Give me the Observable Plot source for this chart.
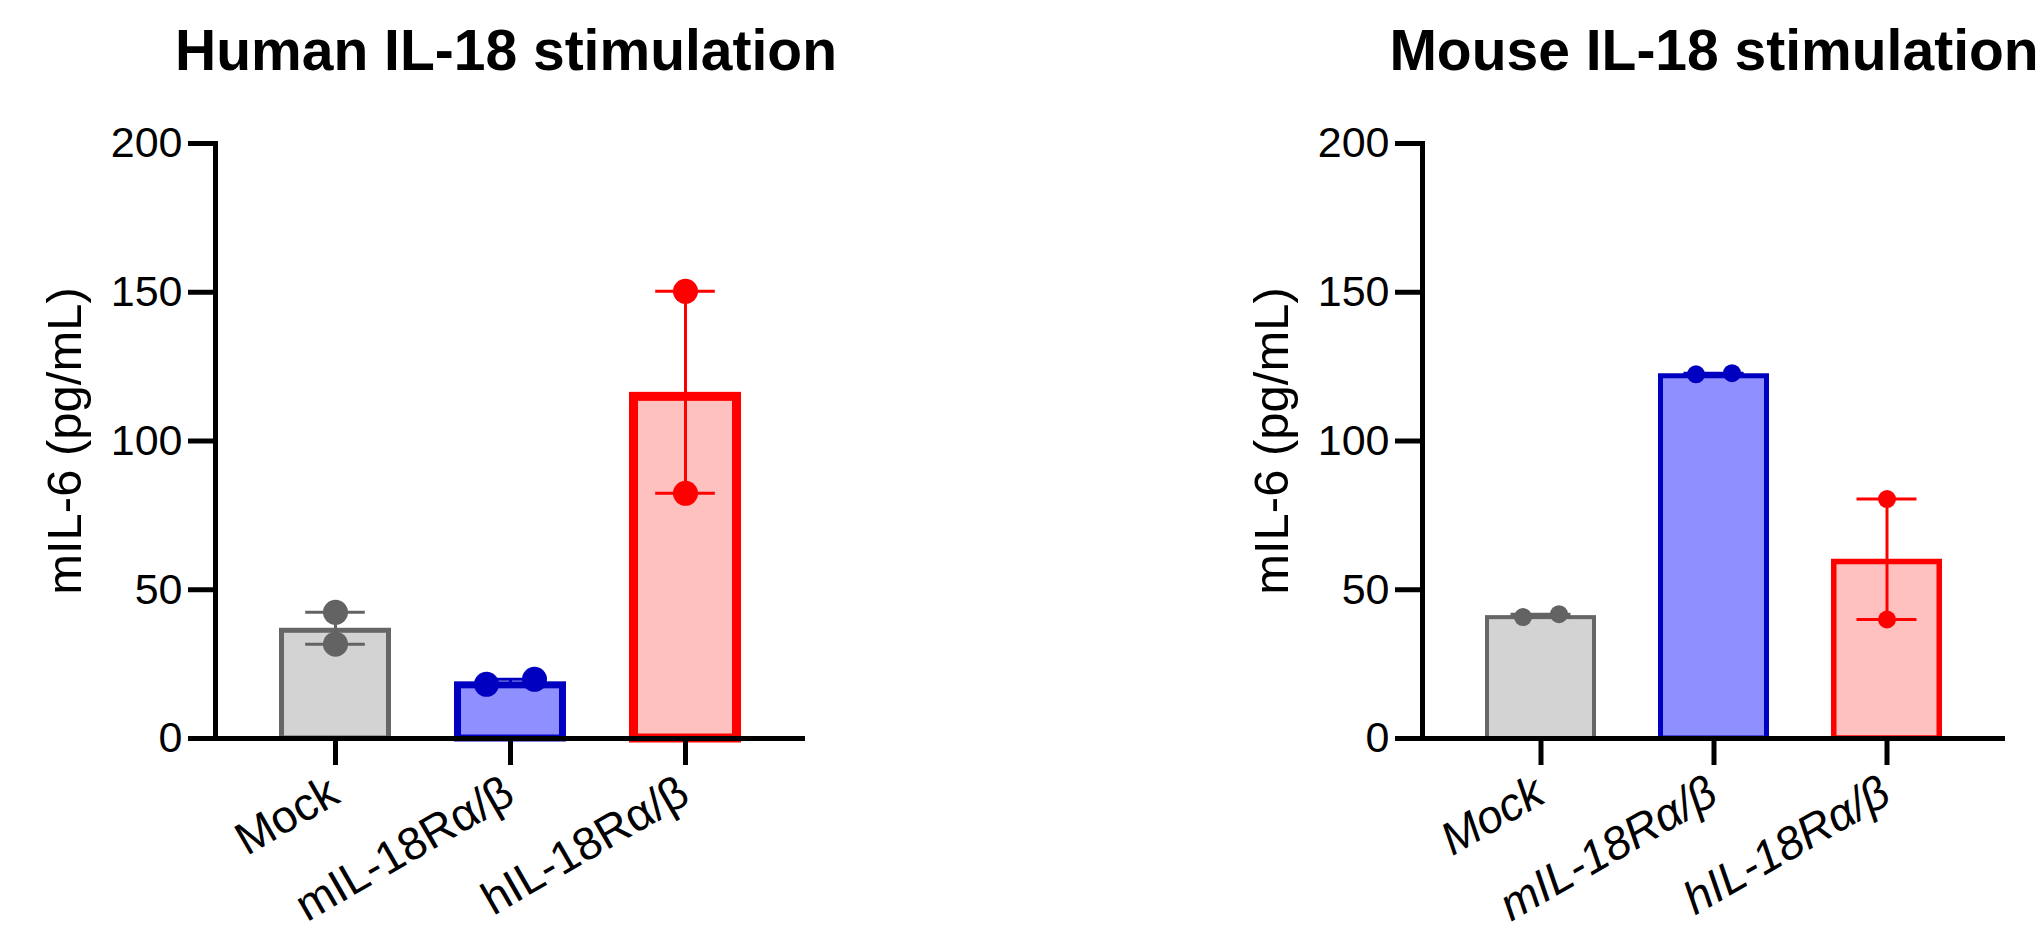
<!DOCTYPE html>
<html><head><meta charset="utf-8">
<script src="https://cdn.jsdelivr.net/npm/d3@7"></script>
<script src="https://cdn.jsdelivr.net/npm/@observablehq/plot@0.6"></script>
<style>
html,body{margin:0;padding:0;background:#fff;width:2040px;height:930px;overflow:hidden;font-family:"Liberation Sans",Arial,sans-serif;}
#wrap{position:relative;width:2040px;height:930px;overflow:hidden;}
.panel{position:absolute;top:0;width:1020px;height:930px;}
.title{position:absolute;top:0;height:100px;line-height:100px;font-size:57px;font-weight:bold;white-space:nowrap;transform:translateX(-50%);color:#000;}
.chart{position:absolute;top:100px;left:0;}
</style></head><body><div id="wrap"></div>
<script>
// ---- data ----
const groups = ["Mock", "mIL-18Rα/β", "hIL-18Rα/β"];
const humanRep1 = [42.4, 18.2, 150.3];
const humanRep2 = [31.7, 19.9, 82.4];
const mouseRep1 = [40.8, 122.4, 80.5];
const mouseRep2 = [41.8, 122.8, 40.0];
const yTicks = [0, 50, 100, 150, 200];
const titles = ["Human IL-18 stimulation", "Mouse IL-18 stimulation"];
const yLabel = "mIL-6 (pg/mL)";

// ---- styles ----
const barFill = ["#d3d3d3", "#8f8fff", "#ffc0c0"];
const barStroke = ["#666666", "#0000c0", "#ff0000"];
const dotColor = ["#636363", "#0000c0", "#ff0000"];
const FONT = "Liberation Sans, Arial, sans-serif";

const panels = [
  {title: titles[0], rep1: humanRep1, rep2: humanRep2, left: 0, titleX: 506,
   marginLeft: 215, marginRight: 215, barSW: [5, 7, 9], r: 12.5, spread: 24,
   whiskerSW: 3, italic: false, labelDx: -135},
  {title: titles[1], rep1: mouseRep1, rep2: mouseRep2, left: 1020, titleX: 694,
   marginLeft: 402, marginRight: 35, barSW: [4, 5, 5.5], r: 9, spread: 18,
   whiskerSW: 3, italic: true, labelDx: -135}
];

const H = 830, MT = 43, MB = 192;
const wrap = document.getElementById("wrap");

for (const p of panels) {
  const rows = groups.map((g, i) => {
    const a = p.rep1[i], b = p.rep2[i];
    return {group: g, i, mean: (a + b) / 2, lo: Math.min(a, b), hi: Math.max(a, b)};
  });
  const pxPerUnit = (H - MT - MB) / 200;
  const points = [];
  groups.forEach((g, i) => {
    const a = p.rep1[i], b = p.rep2[i];
    const overlap = Math.abs(a - b) * pxPerUnit < 2 * p.r;
    points.push({group: g, i, value: a, side: overlap ? -1 : 0});
    points.push({group: g, i, value: b, side: overlap ? 1 : 0});
  });
  const innerW = 1020 - p.marginLeft - p.marginRight;
  const padding = 0.36;
  const bandwidth = innerW / (groups.length - padding + 2 * padding) * (1 - padding);
  const capInset = (bandwidth - 60) / 2;

  const marks = [];
  rows.forEach(d => {
    const sw = p.barSW[d.i];
    marks.push(Plot.barY([d], {x: "group", y: "mean", fill: barFill[d.i], stroke: barStroke[d.i],
      strokeWidth: sw, insetTop: sw / 2, insetLeft: sw / 2, insetRight: sw / 2}));
  });
  marks.push(Plot.ruleX(rows, {x: "group", y1: "lo", y2: "hi", stroke: d => dotColor[d.i], strokeWidth: p.whiskerSW}));
  marks.push(Plot.tickY(rows, {x: "group", y: "lo", stroke: d => dotColor[d.i], strokeWidth: p.whiskerSW, insetLeft: capInset, insetRight: capInset}));
  marks.push(Plot.tickY(rows, {x: "group", y: "hi", stroke: d => dotColor[d.i], strokeWidth: p.whiskerSW, insetLeft: capInset, insetRight: capInset}));
  for (const s of [-1, 0, 1]) {
    marks.push(Plot.dot(points.filter(d => d.side === s), {x: "group", y: "value", r: p.r,
      fill: d => dotColor[d.i], stroke: "none", dx: s * p.spread}));
  }
  // axes
  marks.push(Plot.ruleY([0], {stroke: "#000", strokeWidth: 5}));
  marks.push(Plot.frame({anchor: "left", stroke: "#000", strokeWidth: 5}));
  marks.push(Plot.axisY({ticks: yTicks, tickSize: 27, tickPadding: 6, fontSize: 43, fill: "#000",
    stroke: "#000", strokeWidth: 5, label: null, tickFormat: d => String(d)}));
  marks.push(Plot.axisX({tickSize: 27, stroke: "#000", strokeWidth: 5, label: null, tickFormat: () => ""}));
  marks.push(Plot.text(groups, {x: d => d, y: () => 0, text: d => d, rotate: -30, textAnchor: "end",
    lineAnchor: "middle", dy: 50, dx: -1, fontSize: 46, fill: "#000", fontStyle: p.italic ? "italic" : "normal"}));
  marks.push(Plot.text([yLabel], {frameAnchor: "left", text: d => d, rotate: -90, textAnchor: "middle",
    lineAnchor: "bottom", dx: p.labelDx, dy: 0, fontSize: 49, fill: "#000"}));

  const chart = Plot.plot({
    width: 1020, height: H,
    marginLeft: p.marginLeft, marginRight: p.marginRight, marginTop: MT, marginBottom: MB,
    style: {fontFamily: FONT, background: "transparent", overflow: "visible"},
    x: {type: "band", domain: groups, padding, axis: null},
    y: {domain: [0, 200], axis: null},
    color: {type: "identity"},
    marks
  });

  const panel = document.createElement("div");
  panel.className = "panel";
  panel.style.left = p.left + "px";
  const t = document.createElement("div");
  t.className = "title";
  t.style.left = p.titleX + "px";
  t.textContent = p.title;
  chart.classList.add("chart");
  panel.appendChild(t);
  panel.appendChild(chart);
  wrap.appendChild(panel);
}
</script></body></html>
